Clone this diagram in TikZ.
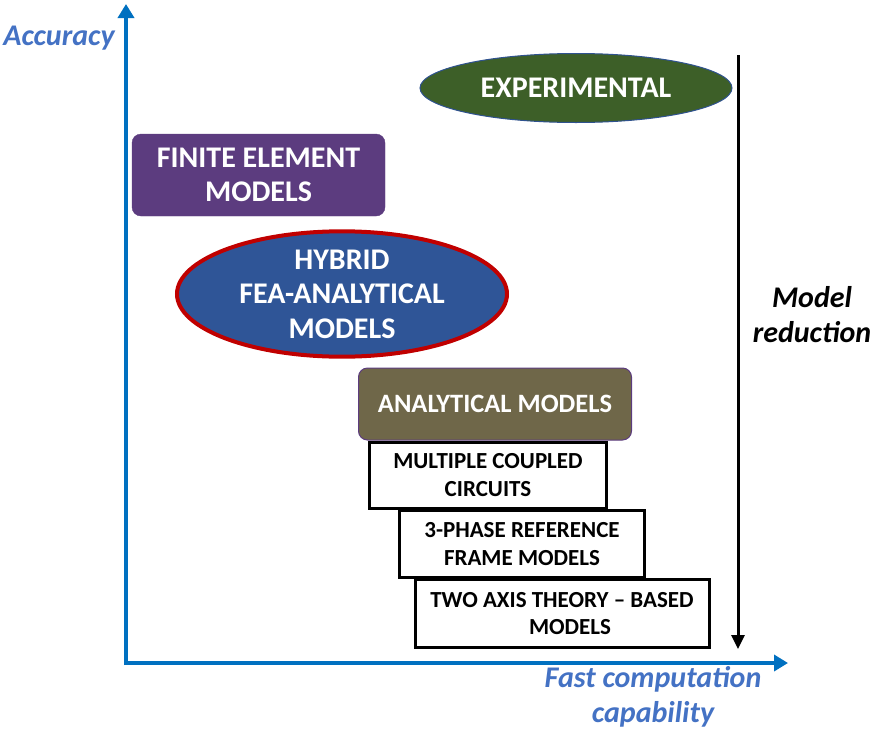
\documentclass[tikz,border=0pt]{standalone}
\usepackage{fontspec}
\setmainfont{Carlito}
\usetikzlibrary{shapes.geometric,arrows.meta}
\definecolor{axisblue}{HTML}{0070C0}
\definecolor{labblue}{HTML}{4472C4}
\definecolor{expgreen}{HTML}{3D5F28}
\definecolor{feapurple}{HTML}{5C3C7F}
\definecolor{hybblue}{HTML}{2F5597}
\definecolor{hybred}{HTML}{C00000}
\definecolor{anabrown}{HTML}{6F6749}
\definecolor{edgeblue}{HTML}{2F528F}
\tikzset{
  lab/.style={font=\fontsize{30}{35}\selectfont\bfseries\itshape, align=center},
  bigtxt/.style={text=white, font=\fontsize{30}{34.5}\selectfont\bfseries, align=center},
  smalltxt/.style={text=black, font=\fontsize{23}{27.5}\selectfont\bfseries, align=center},
  subbox/.style={draw=black, line width=3pt, fill=white, smalltxt, inner sep=0pt},
  axisline/.style={draw=axisblue, line width=3.5pt, -{Triangle[length=14pt,width=16pt]}}
}
\begin{document}
\begin{tikzpicture}[x=1pt,y=-1pt]
\useasboundingbox (0,0) rectangle (872,731);
% axes
\coordinate (origin) at (126,663);
\coordinate (ytop) at (126,4);
\coordinate (xend) at (788,663);
\draw[axisline] (126,665) -- (ytop);
\draw[axisline] (124,663) -- (xend);
\node[lab, text=labblue] (acc) at (59,38) {Accuracy};
\node[lab, text=labblue] (fast) at (653,697) {Fast computation\\capability};
% model reduction arrow
\coordinate (mrtop) at (738,55);
\coordinate (mrbot) at (738,649);
\draw[black, line width=3pt, -{Triangle[length=14pt,width=13pt]}] (mrtop) -- (mrbot);
\node[lab, text=black] (mr) at (812,315) {Model\\reduction};
% experimental
\node[ellipse, draw=edgeblue, line width=1pt, fill=expgreen, minimum width=312pt, minimum height=69pt, inner sep=0pt, bigtxt] (exp) at (576,88) {EXPERIMENTAL};
% finite element
\node[rounded corners=9pt, draw=feapurple, fill=feapurple, minimum width=253pt, minimum height=82pt, inner sep=0pt, bigtxt] (fe) at (258.5,175) {FINITE ELEMENT\\MODELS};
% hybrid
\node[ellipse, draw=hybred, line width=4pt, fill=hybblue, minimum width=330pt, minimum height=122pt, inner sep=0pt, bigtxt] (hyb) at (342,294) {HYBRID\\FEA-ANALYTICAL\\MODELS};
% analytical
\node[rounded corners=9pt, draw=feapurple, line width=1pt, fill=anabrown, minimum width=273pt, minimum height=72pt, inner sep=0pt, bigtxt, font=\fontsize{26.5}{30}\selectfont\bfseries] (ana) at (495,404) {ANALYTICAL MODELS};
% sub boxes
\node[subbox, minimum width=237pt, minimum height=66pt] (mcc) at (488,475) {MULTIPLE COUPLED\\CIRCUITS};
\node[subbox, minimum width=245pt, minimum height=67pt] (tpr) at (522,544) {3-PHASE REFERENCE\\FRAME MODELS};
\node[subbox, minimum width=294pt, minimum height=68pt] (tat) at (562,613.5) {TWO AXIS THEORY -- BASED\\\hspace*{16pt}MODELS};
\end{tikzpicture}
\end{document}
